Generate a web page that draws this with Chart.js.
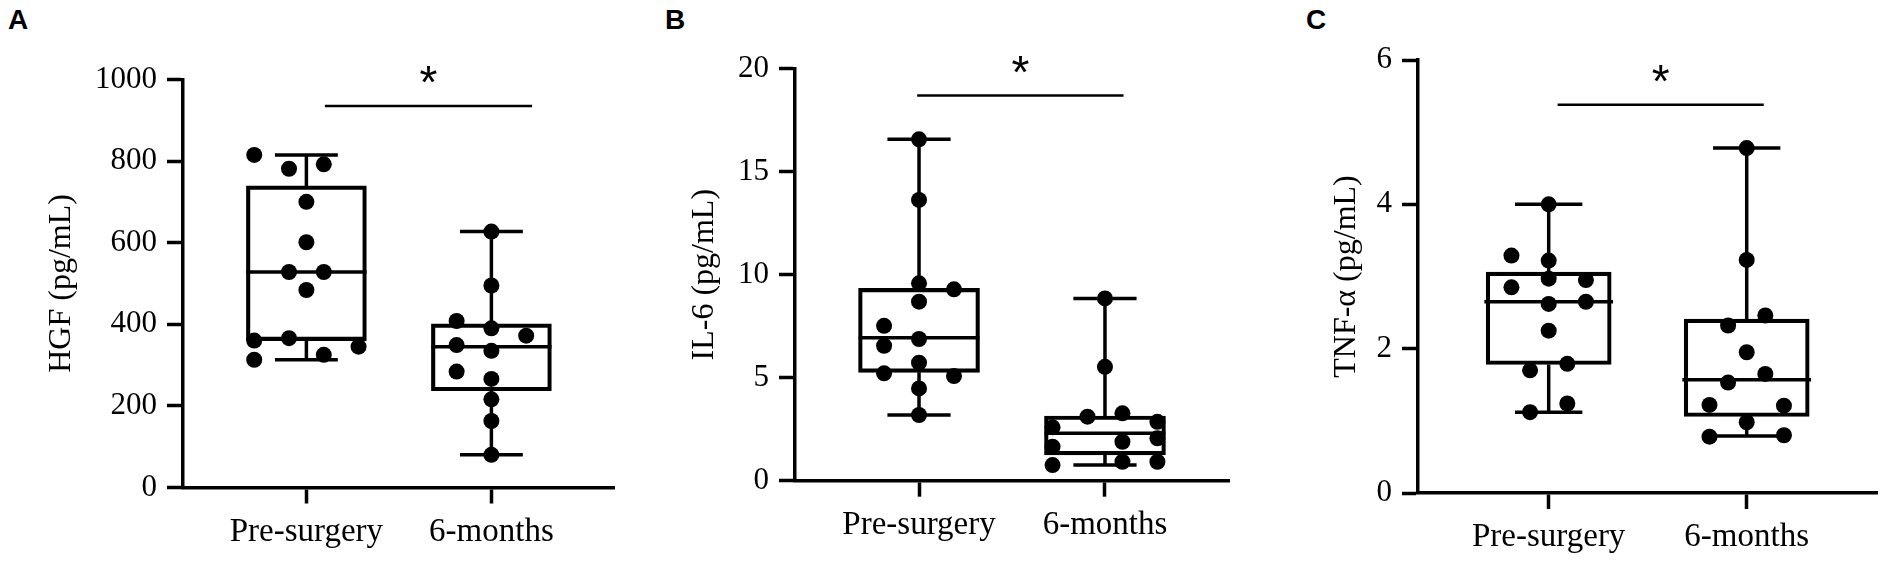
<!DOCTYPE html>
<html><head><meta charset="utf-8">
<script src="https://cdn.jsdelivr.net/npm/chart.js@4.4.1/dist/chart.umd.min.js"></script>
<style>
html,body{margin:0;padding:0;background:#fff;width:1890px;height:571px;overflow:hidden;}
canvas{position:absolute;top:0;}
.letter{position:absolute;top:6px;font-family:"Liberation Sans",Arial,sans-serif;font-weight:bold;font-size:28px;line-height:28px;color:#000;}
</style></head><body>
<div class="letter" style="left:8px">A</div>
<div class="letter" style="left:665px">B</div>
<div class="letter" style="left:1306px">C</div>
<canvas id="cA"></canvas>
<canvas id="cB"></canvas>
<canvas id="cC"></canvas>
<script>
// ---------- data ----------
const categories = ["Pre-surgery", "6-months"];

// Panel A: HGF (pg/mL)
const hgfPre  = [815, 781, 792, 700, 601, 528, 528, 484, 360, 366, 345, 313, 325];
const hgfPreLane = [-3, -1, 1, 0, 0, -1, 1, 0, -3, -1, 3, -3, 1];
const hgf6m   = [627, 495, 408, 390, 372, 349, 335, 284, 266, 216, 163, 80];
const hgf6mLane = [0, 0, -2, 0, 2, -2, 0, -2, 0, 0, 0, 0];
const hgfMin = [313, 80];
const hgfQ1  = [360, 237];
const hgfMed = [528, 345];
const hgfQ3  = [739, 401];
const hgfMax = [815, 627];
const hgfTicks = [0, 200, 400, 600, 800, 1000];
const hgfSig = [0.10, 1.22, 935];

// Panel B: IL-6 (pg/mL)
const il6Pre  = [16.57, 13.63, 9.58, 9.29, 8.69, 7.52, 6.55, 6.88, 5.73, 5.21, 5.08, 4.48, 3.19];
const il6PreLane = [0, 0, 0, 2, 0, -2, -2, 0, 0, -2, 2, 0, 0];
const il66m   = [8.85, 5.53, 3.11, 3.27, 2.86, 2.59, 1.89, 2.06, 1.65, 0.76, 0.92, 0.92];
const il66mLane = [0, 0, -1, 1, 3, -3, 1, 3, -3, -3, 1, 3];
const il6Min = [3.19, 0.76];
const il6Q1  = [5.26, 1.25];
const il6Med = [6.94, 2.30];
const il6Q3  = [9.34, 3.14];
const il6Max = [16.57, 8.85];
const il6Ticks = [0, 5, 10, 15, 20];
const il6Sig = [-0.01, 1.10, 18.7];

// Panel C: TNF-α (pg/mL)
const tnfPre  = [4.00, 3.29, 3.22, 2.85, 2.97, 2.95, 2.62, 2.65, 2.25, 1.70, 1.79, 1.24, 1.12];
const tnfPreLane = [0, -2, 0, -2, 0, 2, 0, 2, 0, -1, 1, 1, -1];
const tnf6m   = [4.78, 3.23, 2.46, 2.32, 1.95, 1.65, 1.53, 1.22, 1.21, 0.98, 0.78, 0.80];
const tnf6mLane = [0, 0, 1, -1, 0, 1, -1, -2, 2, 0, -2, 2];
const tnfMin = [1.12, 0.79];
const tnfQ1  = [1.78, 1.06];
const tnfMed = [2.65, 1.57];
const tnfQ3  = [3.06, 2.41];
const tnfMax = [4.00, 4.78];
const tnfTicks = [0, 2, 4, 6];
const tnfSig = [0.045, 1.086, 5.38];

// ---------- styling constants ----------
const LANE = 0.094;   // horizontal jitter step (category units)
const CAP = 0.17;     // whisker cap half width
const HALF = 0.325;   // median line half width
const SERIF = 'Liberation Serif';

const starPlugin = {
  id: 'sigStar',
  afterDraw(chart, args, opts) {
    const xs = chart.scales.x, ys = chart.scales.y, ctx = chart.ctx;
    ctx.save();
    ctx.font = '46px "Liberation Sans", Arial, sans-serif';
    ctx.fillStyle = '#000';
    ctx.textAlign = 'center';
    ctx.textBaseline = 'alphabetic';
    const m = ctx.measureText('*');
    const cx = xs.getPixelForValue((opts.sig[0] + opts.sig[1]) / 2);
    const cy = ys.getPixelForValue(opts.sig[2]) - 31;
    ctx.fillText('*', cx, cy + (m.actualBoundingBoxAscent - m.actualBoundingBoxDescent) / 2);
    ctx.restore();
  }
};

function makeChart(id, p) {
  const canvas = document.getElementById(id);
  canvas.style.left = p.left + 'px';
  canvas.style.width = p.w + 'px';
  canvas.style.height = '571px';
  canvas.width = p.w; canvas.height = 571;

  const dots = [];
  [p.pre, p.post].forEach((vals, g) => {
    const lanes = g === 0 ? p.preLane : p.postLane;
    vals.forEach((v, i) => dots.push({x: g + lanes[i] * LANE, y: v}));
  });
  const lines = [];
  for (let g = 0; g < 2; g++) {
    lines.push({x: g, y: p.q3[g]}, {x: g, y: p.max[g]}, {x: g, y: null});
    lines.push({x: g, y: p.q1[g]}, {x: g, y: p.min[g]}, {x: g, y: null});
    lines.push({x: g - CAP, y: p.max[g]}, {x: g + CAP, y: p.max[g]}, {x: g, y: null});
    lines.push({x: g - CAP, y: p.min[g]}, {x: g + CAP, y: p.min[g]}, {x: g, y: null});
    lines.push({x: g - HALF, y: p.med[g]}, {x: g + HALF, y: p.med[g]}, {x: g, y: null});
  }
  const boxes = [0, 1].map(g => ({x: g, y: [p.q1[g], p.q3[g]]}));
  const sigLine = [{x: p.sig[0], y: p.sig[2]}, {x: p.sig[1], y: p.sig[2]}];

  const axisGrid = {display: true, drawOnChartArea: false, drawTicks: true, tickLength: 16, tickWidth: 3.5, color: '#000', offset: false};
  const axisBorder = {display: true, color: '#000', width: 3.5};

  new Chart(canvas, {
    type: 'bar',
    data: {
      datasets: [
        {type: 'scatter', data: dots, pointRadius: 8, pointHoverRadius: 8, pointBackgroundColor: '#000', pointBorderWidth: 0, borderWidth: 0},
        {type: 'line', data: lines, borderColor: '#000', borderWidth: 3.5, pointRadius: 0, spanGaps: false, fill: false, tension: 0, borderCapStyle: 'butt'},
        {type: 'bar', data: boxes, backgroundColor: 'rgba(0,0,0,0)', borderColor: '#000', borderWidth: 3.5, borderSkipped: false, barThickness: p.boxPx},
        {type: 'line', data: sigLine, borderColor: '#000', borderWidth: 2.5, pointRadius: 0, fill: false, clip: false}
      ]
    },
    options: {
      responsive: false,
      animation: false,
      events: [],
      font: {family: SERIF},
      layout: {padding: {left: 0, right: p.padR, top: p.top, bottom: 0}},
      plugins: {legend: {display: false}, tooltip: {enabled: false}, sigStar: {sig: p.sig}},
      scales: {
        x: {
          type: 'linear', min: p.xmin, max: p.xmax, offset: false,
          grid: axisGrid, border: axisBorder,
          ticks: {font: {family: SERIF, size: 33}, color: '#000', padding: 9, maxRotation: 0, autoSkip: false,
                  callback: v => (categories[v] !== undefined ? categories[v] : '')},
          afterBuildTicks: s => { s.ticks = categories.map((c, i) => ({value: i})); },
          afterFit: s => { s.height = p.xAxisH; }
        },
        y: {
          type: 'linear', min: 0, max: p.ticks[p.ticks.length - 1],
          grid: axisGrid, border: axisBorder,
          ticks: {font: {family: SERIF, size: 31}, color: '#000', padding: 10, callback: v => String(v)},
          afterBuildTicks: s => { s.ticks = p.ticks.map(v => ({value: v})); },
          title: {display: true, text: p.title, color: '#000', font: {family: SERIF, size: 32}, padding: {top: p.titlePad, bottom: 0}},
          afterFit: s => { s.width = p.yW; }
        }
      }
    },
    plugins: [starPlugin]
  });
}

makeChart('cA', {left: 0, w: 640, yW: 183, padR: 25.2, top: 79.4, xAxisH: 83.5, xmin: -0.667, xmax: 1.667,
  titlePad: 42.8, title: 'HGF (pg/mL)', boxPx: 120, ticks: hgfTicks, sig: hgfSig,
  pre: hgfPre, preLane: hgfPreLane, post: hgf6m, postLane: hgf6mLane,
  min: hgfMin, q1: hgfQ1, med: hgfMed, q3: hgfQ3, max: hgfMax});

makeChart('cB', {left: 640, w: 610, yW: 155, padR: 21, top: 68.7, xAxisH: 90.3, xmin: -0.667, xmax: 1.667,
  titlePad: 45.8, title: 'IL-6 (pg/mL)', boxPx: 121, ticks: il6Ticks, sig: il6Sig,
  pre: il6Pre, preLane: il6PreLane, post: il66m, postLane: il66mLane,
  min: il6Min, q1: il6Q1, med: il6Med, q3: il6Q3, max: il6Max});

makeChart('cC', {left: 1250, w: 640, yW: 168, padR: 12.6, top: 60, xAxisH: 78, xmin: -0.66, xmax: 1.66,
  titlePad: 77.8, title: 'TNF-α (pg/mL)', boxPx: 125, ticks: tnfTicks, sig: tnfSig,
  pre: tnfPre, preLane: tnfPreLane, post: tnf6m, postLane: tnf6mLane,
  min: tnfMin, q1: tnfQ1, med: tnfMed, q3: tnfQ3, max: tnfMax});
</script>
</body></html>
